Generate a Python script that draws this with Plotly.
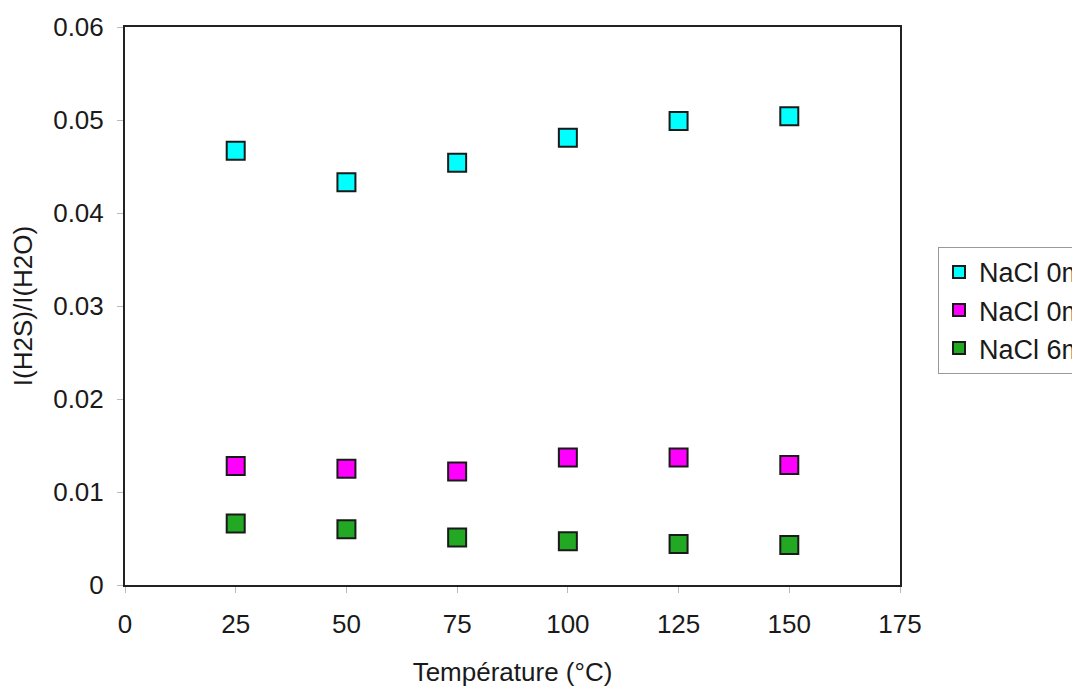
import plotly.graph_objects as go

temperatures = [25, 50, 75, 100, 125, 150]
series_names = ["NaCl 0m (1)", "NaCl 0m (2)", "NaCl 6m"]
cyan_vals = [0.0467, 0.0433, 0.0454, 0.0481, 0.0499, 0.0504]
magenta_vals = [0.0128, 0.0125, 0.0122, 0.0137, 0.0137, 0.0129]
green_vals = [0.0066, 0.0060, 0.0051, 0.0047, 0.0044, 0.0043]
colors = ["#00FFFF", "#FF00FF", "#22A822"]
x_ticks = [0, 25, 50, 75, 100, 125, 150, 175]
y_ticks = [0, 0.01, 0.02, 0.03, 0.04, 0.05, 0.06]
y_tick_labels = ["0", "0.01", "0.02", "0.03", "0.04", "0.05", "0.06"]

fig = go.Figure()
for name, vals, c in zip(series_names, [cyan_vals, magenta_vals, green_vals], colors):
    fig.add_trace(go.Scatter(
        x=temperatures, y=vals, mode="markers", name=name,
        marker=dict(symbol="square", size=18, color=c,
                    line=dict(color="#1a1a1a", width=2)),
    ))

font = dict(family="Liberation Sans, Arial, sans-serif", size=26, color="#1a1a1a")
fig.update_layout(
    width=1080, height=689,
    margin=dict(l=117, r=188, t=19, b=112, autoexpand=False),
    paper_bgcolor="white", plot_bgcolor="white",
    font=font,
    showlegend=True,
    legend=dict(x=1.049, y=0.606, xanchor="left", yanchor="top",
                bordercolor="#999", borderwidth=1, bgcolor="white",
                font=dict(family="Liberation Sans, Arial, sans-serif", size=27, color="#1a1a1a"),
                itemsizing="constant"),
    xaxis=dict(range=[0, 175], tickvals=x_ticks, showgrid=False, zeroline=False,
               showline=True, linecolor="#222", linewidth=2, mirror=True,
               ticks="outside", ticklen=6, tickcolor="#bbb",
               ticklabelstandoff=9, automargin=False,
               title=dict(text="Température (°C)", standoff=25, font=font)),
    yaxis=dict(range=[0, 0.06], tickvals=y_ticks, ticktext=y_tick_labels,
               showgrid=False, zeroline=False,
               showline=True, linecolor="#222", linewidth=2, mirror=True,
               ticks="outside", ticklen=6, tickcolor="#bbb",
               ticklabelstandoff=8, automargin=False,
               title=dict(text="I(H2S)/I(H2O)", standoff=20, font=font)),
)
fig.write_html("out.html")
